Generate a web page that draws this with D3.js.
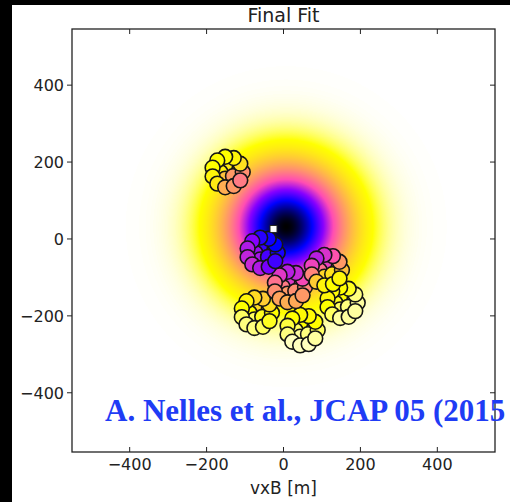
<!DOCTYPE html>
<html><head><meta charset="utf-8">
<script src="https://cdn.jsdelivr.net/npm/d3@7"></script>
<style>html,body{margin:0;padding:0;background:#fff;} svg{display:block}</style>
</head><body>
<svg id="chart" width="510" height="502"></svg>
<script>
// ---- data ----
const title = "Final Fit";
const xLabel = "vxB [m]";
const credit = "A. Nelles et al., JCAP 05 (2015";
const xTicks = [-400, -200, 0, 200, 400];
const yTicks = [-400, -200, 0, 200, 400];
const xDomain = [-550, 550];
const yDomain = [-554, 546];

// fitted footprint: core position (m), width (m) and shape exponent
const ldfCore = [7, 32];
const ldfWidth = 135;
const ldfShape = 1.8;

// reconstructed core marker
const corePoint = [-26, 26];

// antenna layout of a station (offsets in m from station centre)
const antennaX = [14.6, -5.6, -18, -5.6, 14.6, 40, 33.6, 16.6, -5.7, -26.2, -38.4, -38.4, -26.2, -5.7, 16.6, 33.6];
const antennaY = [10.6, 17.1, 0, -17.1, -10.6, 0, 21.6, 36.4, 39.6, 30.2, 11.3, -11.3, -30.2, -39.6, -36.4, -21.6];

// station centres (m)
const stationX = [153, 49, -70, 16, 112, -55, -146];
const stationY = [-166, -237, -192, -125, -81, -36, 174];

// measured (normalised) values per antenna, colour-map fraction
const stationA = [0.94, 0.92, 0.93, 0.95, 0.96, 0.97, 0.96, 0.93, 0.92, 0.91, 0.90, 0.92, 0.95, 0.97, 0.97, 0.97];
const stationB = [0.93, 0.92, 0.95, 0.97, 0.96, 0.95, 0.92, 0.91, 0.91, 0.92, 0.94, 0.96, 0.98, 0.98, 0.98, 0.97];
const stationC = [0.88, 0.85, 0.92, 0.95, 0.93, 0.92, 0.86, 0.82, 0.85, 0.90, 0.92, 0.95, 0.96, 0.96, 0.95, 0.93];
const stationD = [0.58, 0.53, 0.66, 0.72, 0.70, 0.68, 0.56, 0.50, 0.48, 0.53, 0.64, 0.70, 0.74, 0.76, 0.75, 0.72];
const stationE = [0.66, 0.54, 0.64, 0.84, 0.86, 0.80, 0.72, 0.58, 0.52, 0.48, 0.55, 0.68, 0.82, 0.90, 0.92, 0.90];
const stationF = [0.27, 0.32, 0.44, 0.46, 0.34, 0.28, 0.25, 0.27, 0.30, 0.42, 0.47, 0.49, 0.50, 0.47, 0.40, 0.33];
const stationG = [0.82, 0.88, 0.89, 0.80, 0.72, 0.70, 0.86, 0.90, 0.92, 0.92, 0.92, 0.90, 0.88, 0.76, 0.72, 0.66];
const stationValues = [stationA, stationB, stationC, stationD, stationE, stationF, stationG];

// gnuplot2 colour map stops
const cmapStops = [0, 0.25, 0.42, 0.57, 0.92, 1];
const cmapColors = ["#000000", "#0000ff", "#8700ff", "#ff4db3", "#ffff00", "#ffffff"];

// ---- layout ----
const svg = d3.select("#chart");
const W = 510, H = 502;
const M = {left: 72, right: 495, top: 29, bottom: 452};
const pw = M.right - M.left, ph = M.bottom - M.top;

svg.append("rect").attr("width", W).attr("height", H).attr("fill", "#fff");
svg.append("rect").attr("x", 0).attr("y", 0).attr("width", W).attr("height", 5).attr("fill", "#000");
svg.append("rect").attr("x", 0).attr("y", 0).attr("width", 12).attr("height", H).attr("fill", "#000");

const x = d3.scaleLinear().domain(xDomain).range([M.left, M.right]);
const y = d3.scaleLinear().domain(yDomain).range([M.bottom, M.top]);
const cmap = d3.scaleLinear().domain(cmapStops).range(cmapColors).interpolate(d3.interpolateRgb).clamp(true);

// heat map background
const canvas = document.createElement("canvas");
canvas.width = pw; canvas.height = ph;
const ctx = canvas.getContext("2d");
const img = ctx.createImageData(pw, ph);
const lut = d3.range(1024).map(i => d3.rgb(cmap(i / 1023)));
for (let j = 0; j < ph; j++) {
  const dy = y.invert(M.top + j + 0.5) - ldfCore[1];
  for (let i = 0; i < pw; i++) {
    const dx = x.invert(M.left + i + 0.5) - ldfCore[0];
    const r = Math.sqrt(dx * dx + dy * dy) / ldfWidth;
    const t = 1 - Math.exp(-Math.pow(r, ldfShape));
    const c = lut[Math.min(1023, Math.round(t * 1023))];
    const k = 4 * (j * pw + i);
    img.data[k] = c.r; img.data[k + 1] = c.g; img.data[k + 2] = c.b; img.data[k + 3] = 255;
  }
}
ctx.putImageData(img, 0, 0);

const defs = svg.append("defs");
defs.append("clipPath").attr("id", "plotclip").append("rect")
  .attr("x", M.left).attr("y", M.top).attr("width", pw).attr("height", ph);

const plot = svg.append("g").attr("clip-path", "url(#plotclip)");
plot.append("image").attr("x", M.left).attr("y", M.top).attr("width", pw).attr("height", ph)
  .attr("preserveAspectRatio", "none").attr("href", canvas.toDataURL());

// stations
const antennas = [];
stationX.forEach((sx, s) => {
  antennaX.forEach((ax, a) => {
    antennas.push({x: sx + ax, y: stationY[s] + antennaY[a], v: stationValues[s][a]});
  });
});
plot.append("g").selectAll("circle").data(antennas).join("circle")
  .attr("cx", d => x(d.x)).attr("cy", d => y(d.y)).attr("r", 7.4)
  .attr("fill", d => cmap(d.v)).attr("stroke", "#151515").attr("stroke-width", 1.6);

// core marker
plot.append("rect")
  .attr("x", x(corePoint[0]) - 3.5).attr("y", y(corePoint[1]) - 3.5)
  .attr("width", 7).attr("height", 7)
  .attr("fill", "#fff").attr("stroke", "#222").attr("stroke-width", 1);

// frame & ticks
const frame = svg.append("g");
frame.append("rect").attr("x", M.left).attr("y", M.top).attr("width", pw).attr("height", ph)
  .attr("fill", "none").attr("stroke", "#222").attr("stroke-width", 1.3);

const fontFam = "DejaVu Sans, sans-serif";
const fmt = d => (d < 0 ? "\u2212" + Math.abs(d) : String(d));
const tl = 5;
xTicks.forEach(t => {
  frame.append("line").attr("x1", x(t)).attr("x2", x(t)).attr("y1", M.bottom).attr("y2", M.bottom - tl).attr("stroke", "#222");
  frame.append("line").attr("x1", x(t)).attr("x2", x(t)).attr("y1", M.top).attr("y2", M.top + tl).attr("stroke", "#222");
  frame.append("text").attr("x", x(t)).attr("y", 470).attr("text-anchor", "middle")
    .attr("font-family", fontFam).attr("font-size", 16).attr("fill", "#222").text(fmt(t));
});
yTicks.forEach(t => {
  frame.append("line").attr("x1", M.left).attr("x2", M.left - tl).attr("y1", y(t)).attr("y2", y(t)).attr("stroke", "#222");
  frame.append("line").attr("x1", M.right).attr("x2", M.right - tl).attr("y1", y(t)).attr("y2", y(t)).attr("stroke", "#222");
  frame.append("text").attr("x", 64).attr("y", y(t)).attr("dy", "0.36em").attr("text-anchor", "end")
    .attr("font-family", fontFam).attr("font-size", 16).attr("fill", "#222").text(fmt(t));
});

svg.append("text").attr("x", (M.left + M.right) / 2).attr("y", 22).attr("text-anchor", "middle")
  .attr("font-family", fontFam).attr("font-size", 19).attr("fill", "#222").text(title);
svg.append("text").attr("x", (M.left + M.right) / 2).attr("y", 494).attr("text-anchor", "middle")
  .attr("font-family", fontFam).attr("font-size", 17).attr("fill", "#222").text(xLabel);

svg.append("text").attr("x", 105).attr("y", 421)
  .attr("font-family", "Liberation Serif, Times New Roman, serif").attr("font-weight", "bold")
  .attr("font-size", 31).attr("fill", "#1f3cf5").text(credit);
</script>
</body></html>
